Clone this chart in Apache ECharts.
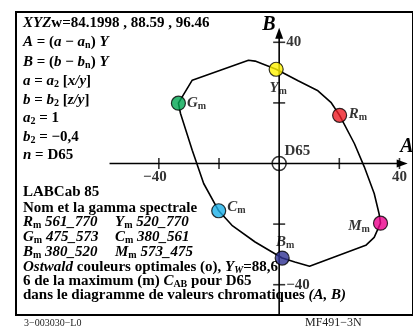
<!DOCTYPE html>
<html><head><meta charset="utf-8">
<script src="https://cdn.jsdelivr.net/npm/echarts@6/dist/echarts.min.js"></script>
<style>html,body{margin:0;padding:0;background:#fff}#c{width:413px;height:332px}</style>
</head><body><div id="c"></div>
<script>
// ---- data ----
const markerNames = ['Y', 'R', 'M', 'B', 'C', 'G'];
const markerA = [-1.0, 20.1, 33.7, 1.0, -20.1, -33.5];
const markerB = [31.1, 15.9, -19.7, -31.2, -15.6, 19.9];
const markerColors = ['#fff200', '#ed1c24', '#ec008c', '#2e3192', '#1bb0e8', '#00a651'];
const curveA = [-1.0, 6.3, 12.9, 17.2, 20.1, 25.0, 28.3, 31.6, 33.2, 33.7, 31.6, 28.8, 10.1, 5.2, 1.0, -8.0, -15.7, -20.1, -25.1, -28.9, -32.8, -33.5, -28.9, -10.2, -8.0, -1.0];
const curveB = [31.1, 27.3, 24.0, 20.2, 15.9, 6.6, -1.1, -9.9, -16.5, -19.7, -24.4, -27.0, -33.9, -32.5, -31.2, -25.9, -20.4, -15.6, -6.6, 4.4, 16.5, 19.9, 27.5, 34.1, 33.8, 31.1];
const axisAExtent = [-56.4, 40.9];
const axisBExtent = [-50, 43.0];
const tickA = [-40, -20, 20, 40];
const tickALabels = ['\u221240', '', '', '40'];
const tickB = [40, 20, -20, -40];
const tickBLabels = ['40', '', '', '\u221240'];
const topLines = [
  '{i|XYZ}{b|w=84.1998 , 88.59 , 96.46}',
  '{i|A}{b| = (}{i|a}{b| \u2212 }{i|a}{s|n}{b|) }{i|Y}',
  '{i|B}{b| = (}{i|b}{b| \u2212 }{i|b}{s|n}{b|) }{i|Y}',
  '{i|a}{b| = }{i|a}{s|2}{b| [}{i|x/y}{b|]}',
  '{i|b}{b| = }{i|b}{s|2}{b| [}{i|z/y}{b|]}',
  '{i|a}{s|2}{b| = 1}',
  '{i|b}{s|2}{b| = \u22120,4}',
  '{i|n}{b| = D65}'
];
const bottomLines = [
  '{b|LABCab 85}',
  '{b|Nom et la gamma spectrale}',
  '{i|R}{s|m}{i| 561_770}',
  '{i|G}{s|m}{i| 475_573}',
  '{i|B}{s|m}{i| 380_520}',
  '{i|Ostwald}{b| couleurs optimales (o), }{i|Y}{si|W}{b|=88,6}',
  '{b|6 de la maximum (m) }{i|C}{s|AB}{b| pour D65}',
  '{b|dans le diagramme de valeurs chromatiques }{i|(A, B)}'
];
const secondColumn = ['{i|Y}{s|m}{i| 520_770}', '{i|C}{s|m}{i| 380_561}', '{i|M}{s|m}{i| 573_475}'];
const footerLeft = '3\u2212003030\u2212L0';
const footerRight = 'MF491\u22123N';

// ---- styles ----
const F = '"Liberation Serif","Times New Roman",serif';
const rich = {
  b: {fontFamily: F, fontWeight: 'bold', fontSize: 15, lineHeight: 17, color: '#000'},
  i: {fontFamily: F, fontWeight: 'bold', fontStyle: 'italic', fontSize: 15, lineHeight: 17, color: '#000'},
  s: {fontFamily: F, fontWeight: 'bold', fontSize: 10, lineHeight: 9, verticalAlign: 'bottom', color: '#000'},
  si: {fontFamily: F, fontWeight: 'bold', fontStyle: 'italic', fontSize: 10, lineHeight: 9, verticalAlign: 'bottom', color: '#000'}
};
const topY = [22.7, 42.3, 61.7, 80.7, 100, 118.3, 136.7, 155];
const botY = [191.7, 207.7, 221.7, 236.7, 251.7, 266.7, 280.7, 295];

const graphics = [];
topLines.forEach((t, k) => graphics.push({type: 'text', x: 23, y: topY[k], z: 10, style: {text: t, rich, align: 'left', verticalAlign: 'middle'}}));
bottomLines.forEach((t, k) => graphics.push({type: 'text', x: 23, y: botY[k], z: 10, style: {text: t, rich, align: 'left', verticalAlign: 'middle'}}));
secondColumn.forEach((t, k) => graphics.push({type: 'text', x: 115, y: botY[k + 2], z: 10, style: {text: t, rich, align: 'left', verticalAlign: 'middle'}}));
graphics.push({type: 'text', x: 24, y: 323, style: {text: footerLeft, fontFamily: F, fontSize: 10, fill: '#222', align: 'left', verticalAlign: 'middle'}});
graphics.push({type: 'text', x: 305, y: 323, style: {text: footerRight, fontFamily: F, fontSize: 12, fill: '#222', align: 'left', verticalAlign: 'middle'}});
graphics.push({type: 'text', x: 269, y: 25, style: {text: 'B', fontFamily: F, fontWeight: 'bold', fontStyle: 'italic', fontSize: 20, fill: '#000', align: 'center', verticalAlign: 'middle'}});
graphics.push({type: 'text', x: 407, y: 146.5, style: {text: 'A', fontFamily: F, fontWeight: 'bold', fontStyle: 'italic', fontSize: 20, fill: '#000', align: 'center', verticalAlign: 'middle'}});

const labelCfg = {
  Y: {position: 'bottom', distance: 3, offset: [2, 0]},
  R: {position: 'right', distance: 1.5, offset: [0, -1]},
  M: {position: 'left', distance: 3, offset: [0, 3]},
  B: {position: 'top', distance: 0, offset: [3, 0]},
  C: {position: 'right', distance: 1, offset: [0, -4]},
  G: {position: 'right', distance: 1, offset: [0, 0]}
};
const markerData = markerNames.map((n, k) => ({
  value: [markerA[k], markerB[k]],
  itemStyle: {color: markerColors[k]},
  label: Object.assign({show: true, formatter: '{i|' + n + '}{s|m}', rich}, labelCfg[n])
}));
const tickFont = {fontFamily: F, fontWeight: 'bold', fontSize: 15, color: '#000'};

const chart = echarts.init(document.getElementById('c'), null, {renderer: 'canvas'});
chart.setOption({
  animation: false,
  backgroundColor: '#fff',
  grid: {left: 16, top: 12, width: 400, height: 303, show: true, borderColor: '#000', borderWidth: 2, backgroundColor: 'transparent'},
  xAxis: {type: 'value', min: -87.5, max: 44.5, show: false},
  yAxis: {type: 'value', min: -50, max: 50, show: false},
  graphic: {elements: graphics},
  series: [
    {type: 'line', silent: true, z: 2, symbol: 'none', lineStyle: {color: '#000', width: 1.6},
     data: [{value: [axisAExtent[0], 0]}, {value: [axisAExtent[1], 0], symbol: 'path://M0,0L10,5L0,10Z', symbolSize: [11, 8], itemStyle: {color: '#000'}}],
     showSymbol: true, showAllSymbol: true},
    {type: 'line', silent: true, z: 2, symbol: 'none', lineStyle: {color: '#000', width: 1.6},
     data: [{value: [0, axisBExtent[0]]}, {value: [0, axisBExtent[1]], symbol: 'path://M5,0L10,10L0,10Z', symbolSize: [8, 11], itemStyle: {color: '#000'}}],
     showSymbol: true, showAllSymbol: true},
    {type: 'scatter', silent: true, z: 3, symbol: 'rect', symbolSize: [1.6, 11], itemStyle: {color: '#000'},
     data: tickA.map((v, k) => ({value: [v, 0], label: Object.assign({show: tickALabels[k] !== '', formatter: tickALabels[k], position: 'bottom', distance: 1, offset: [v < 0 ? -4 : 0, 0]}, tickFont)}))},
    {type: 'scatter', silent: true, z: 3, symbol: 'rect', symbolSize: [12, 1.6], itemStyle: {color: '#000'},
     data: tickB.map((v, k) => ({value: [0, v], label: Object.assign({show: tickBLabels[k] !== '', formatter: tickBLabels[k], position: 'right', distance: 1}, tickFont)}))},
    {type: 'scatter', silent: true, z: 4, symbol: 'circle', symbolSize: 14, itemStyle: {color: 'rgba(0,0,0,0)', borderColor: '#000', borderWidth: 1.5},
     data: [{value: [0, 0], label: Object.assign({show: true, formatter: 'D65', position: [13, -5], align: 'left', verticalAlign: 'middle'}, tickFont)}]},
    {type: 'line', silent: true, z: 5, symbol: 'none', lineStyle: {color: '#000', width: 1.6},
     data: curveA.map((a, k) => [a, curveB[k]])},
    {type: 'scatter', silent: true, z: 6, symbolSize: 14, itemStyle: {borderColor: '#000', borderWidth: 1.2},
     data: markerData}
  ]
});
</script></body></html>
